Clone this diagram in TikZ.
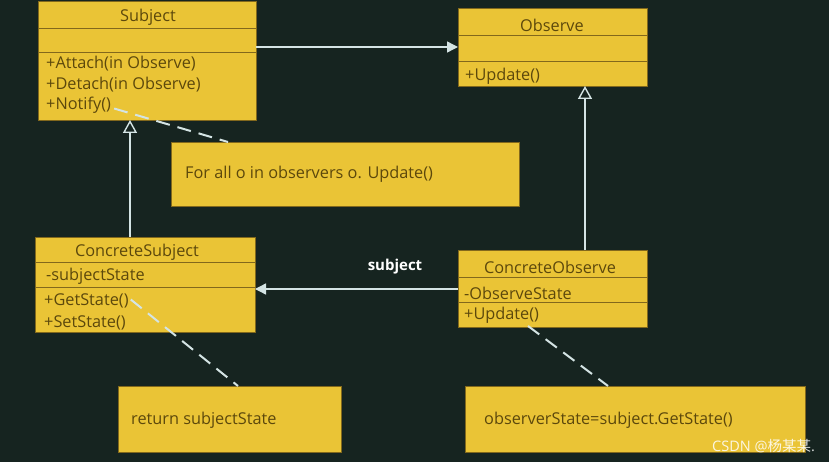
\documentclass[tikz,border=0pt]{standalone}
\usepackage{fontspec}
\setmainfont{Open Sans}
\newfontfamily\cjk{Noto Sans CJK SC}
\usetikzlibrary{arrows.meta,calc}
\definecolor{bg}{RGB}{22,36,32}
\definecolor{ybox}{RGB}{234,196,54}
\definecolor{yline}{RGB}{130,104,28}
\definecolor{ytext}{RGB}{92,72,12}
\definecolor{wline}{RGB}{212,228,228}
\begin{document}
\begin{tikzpicture}[x=1pt,y=-1pt,
  box/.style={draw=yline, line width=0.8pt, fill=ybox, anchor=north west, inner sep=0, outer sep=0},
  txt/.style={text=ytext, font=\fontsize{16.3}{18}\selectfont, inner sep=0, anchor=west, yshift=-1.5pt},
  ttl/.style={text=ytext, font=\fontsize{16.3}{18}\selectfont, inner sep=0, yshift=-1pt},
  div/.style={draw=yline, line width=0.8pt},
  conn/.style={draw=wline, line width=1.4pt},
  solidtip/.style={-{Triangle[width=11pt,length=11pt]}},
  opentip/.style={-{Triangle[open,width=14pt,length=13pt,fill=bg]}},
  notelink/.style={draw=wline, line width=2pt, dash pattern=on 14pt off 8pt},
  lbl/.style={text=white, font=\bfseries\fontsize{15}{17}\selectfont, inner sep=0}
]
\fill[bg] (0,0) rectangle (829,462);
\useasboundingbox (0,0) rectangle (829,462);

% Subject
\node[box, minimum width=218pt, minimum height=119pt] (subj) at (38,1) {};
\draw[div] ($(subj.north west)+(0,27)$) -- ($(subj.north east)+(0,27)$);
\draw[div] ($(subj.north west)+(0,51)$) -- ($(subj.north east)+(0,51)$);
\node[ttl] (subjT) at (148,16) {Subject};
\node[txt] (subjM1) at (46,62) {+Attach(in Observe)};
\node[txt] (subjM2) at (46,83) {+Detach(in Observe)};
\node[txt] (subjM3) at (46,104) {+Notify()};

% Observe
\node[box, minimum width=189pt, minimum height=78pt] (obs) at (458,8) {};
\draw[div] ($(obs.north west)+(0,27)$) -- ($(obs.north east)+(0,27)$);
\draw[div] ($(obs.north west)+(0,53)$) -- ($(obs.north east)+(0,53)$);
\node[ttl] (obsT) at (552,24) {Observe};
\node[txt] (obsM1) at (465,75) {+Update()};

% Note
\node[box, minimum width=348pt, minimum height=64pt] (note) at (171,142) {};
\node[txt] (noteT) at (185,173) {For all o in observers o. Update()};

% ConcreteSubject
\node[box, minimum width=220pt, minimum height=95pt] (csub) at (35,237) {};
\draw[div] ($(csub.north west)+(0,25)$) -- ($(csub.north east)+(0,25)$);
\draw[div] ($(csub.north west)+(0,50)$) -- ($(csub.north east)+(0,50)$);
\node[ttl] (csubT) at (137,251) {ConcreteSubject};
\node[txt] (csubA) at (46,275) {-subjectState};
\node[txt] (csubM1) at (44,299) {+GetState()};
\node[txt] (csubM2) at (44,321) {+SetState()};

% ConcreteObserve
\node[box, minimum width=189pt, minimum height=77pt] (cobs) at (458,250) {};
\draw[div] ($(cobs.north west)+(0,27)$) -- ($(cobs.north east)+(0,27)$);
\draw[div] ($(cobs.north west)+(0,52)$) -- ($(cobs.north east)+(0,52)$);
\node[ttl] (cobsT) at (550,266) {ConcreteObserve};
\node[txt] (cobsA) at (464,292) {-ObserveState};
\node[txt] (cobsM1) at (464,314) {+Update()};

% Notes bottom
\node[box, minimum width=223pt, minimum height=66pt] (ret) at (118,386) {};
\node[txt] (retT) at (131,419) {return subjectState};
\node[box, minimum width=340pt, minimum height=66pt] (ost) at (465,386) {};
\node[txt] (ostT) at (484,419) {observerState=subject.GetState()};

% Connectors
\draw[conn, solidtip] (subj.east |- obs.west) -- (obs.west);
\draw[conn, opentip] ($(csub.north west)+(95,0)$) -- ($(subj.south west)+(92,0)$);
\draw[conn, opentip] ($(cobs.north west)+(127,0)$) -- ($(obs.south west)+(127,0)$);
\draw[conn, solidtip] ($(cobs.north west)+(0,39)$) -- ($(csub.north east)+(0,52)$);
\node[lbl] (subjLbl) at (395,267) {subject};

\draw[notelink] ($(subjM3.east)+(3,3)$) -- ($(note.north west)+(57,0)$);
\draw[notelink] ($(csubM1.east)+(2,-1)$) -- ($(ret.north west)+(120,0)$);
\draw[notelink] ($(cobs.south west)+(70,-1)$) -- ($(ost.north west)+(143,0)$);

% watermark
\node[text=white, opacity=0.85, font=\fontsize{14.5}{16}\selectfont, inner sep=0, anchor=west] (wm) at (712,446) {CSDN @{\cjk 杨某某}.};
\end{tikzpicture}
\end{document}
